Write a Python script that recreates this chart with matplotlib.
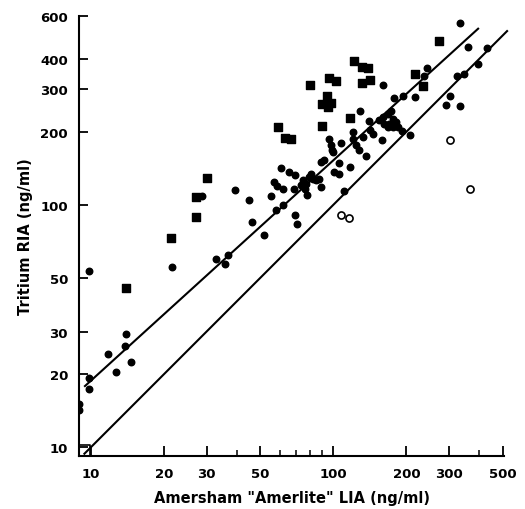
import numpy as np
import matplotlib.pyplot as plt
from matplotlib.ticker import FixedLocator, NullFormatter

# Tritium RIA vs Amersham "Amerlite" LIA (ng/ml)

# filled circles
circle_x = [9.84, 21.6, 13.9, 13.8, 11.8, 14.7, 12.7, 9.78, 9.84, 8.95, 8.95,
            32.9, 35.6, 36.7, 39.4, 44.7, 28.8, 46.1, 51.5, 55.4, 56.8, 58.4,
            61.9, 60.7, 65.6, 61.9, 58.1, 69.1, 70.8, 69.1, 68.8, 78.0, 88.8,
            74.8, 77.2, 79.6, 80.9, 82.2, 84.9, 87.6, 76.0, 73.6, 89.0, 91.8,
            99.3, 105.8, 116.9, 100.9, 105.1, 110.4, 95.6, 97.8, 98.8, 107.6,
            120.3, 120.9, 124.4, 128.5, 132.9, 127.1, 136.4, 139.6, 141.6, 146.1,
            158.6, 159.6, 159.6, 167.3, 172.8, 175.4, 170.1, 181.1, 183.9, 162.2,
            154.6, 167.3, 175.4, 191.4, 207.5, 178.2, 193.2, 215.9, 236.9, 243.0,
            290.9, 302.5, 331.6, 321.7, 343.8, 332.2, 360.1, 428.3, 395.2]
circle_y = [53.2, 55.3, 29.2, 26.2, 24.2, 22.4, 20.4, 19.3, 17.4, 15.1, 14.2,
            59.8, 56.7, 62.3, 115.1, 104.9, 108.9, 85.2, 75.2, 108.2, 123.9, 119.2,
            116.4, 141.5, 136.2, 99.3, 94.7, 90.7, 83.0, 132.2, 115.7, 110.0, 118.7,
            126.0, 122.1, 130.2, 134.3, 128.1, 126.0, 128.1, 116.4, 120.2, 150.1, 153.5,
            165.1, 148.4, 143.2, 136.5, 134.3, 113.5, 187.4, 175.8, 167.6, 179.9,
            200.3, 187.4, 175.8, 244.5, 190.5, 168.0, 158.3, 221.3, 202.8, 196.6,
            184.7, 312.3, 230.3, 237.7, 242.9, 226.6, 216.1, 219.6, 209.4, 216.1,
            223.0, 209.4, 209.4, 201.2, 194.7, 276.0, 280.2, 277.6, 338.0, 364.8,
            257.2, 279.4, 256.5, 340.3, 344.5, 559.8, 448.5, 441.1, 380.1]

# filled squares
square_x = [21.3, 14.0, 30.2, 27.2, 27.0, 59.0, 63.2, 67.0, 80.2, 95.7, 102.6,
            93.8, 89.8, 97.8, 94.7, 89.3, 117.3, 122.0, 131.0, 139.3, 130.8,
            142.0, 217.0, 233.0, 272.0]
square_y = [72.8, 45.3, 129.3, 107.4, 89.0, 210.0, 188.7, 186.0, 311.0, 332.0, 324.0,
            280.0, 261.0, 263.0, 253.0, 211.0, 227.0, 392.0, 371.0, 367.0, 318.0,
            328.0, 345.0, 309.0, 475.0]

# open circles
open_x = [107.9, 115.8, 303.0, 364.5]
open_y = [91.1, 88.4, 184.0, 116.0]

# open square
open_sq_x = [9.4]
open_sq_y = [9.67]

# fitted line  y = fit_a * x ** fit_b  and line of identity
fit_a = 2.32
fit_b = 0.909
fit_range = [9.45, 395]
identity_range = [9.4, 520]

x_ticks = [10, 20, 30, 50, 100, 200, 300, 500]
x_minor = [40, 60, 70, 80, 90, 400]
y_ticks = [10, 20, 30, 50, 100, 200, 300, 400, 600]

plt.rcParams['font.family'] = 'DejaVu Sans'
plt.rcParams['font.weight'] = 'bold'

fig = plt.figure(figsize=(5.25, 5.1), dpi=100)
ax = fig.add_axes([79 / 525, 53 / 510, 425 / 525, 440 / 510])
ax.set_xscale('log')
ax.set_yscale('log')
ax.set_xlim(8.93, 505)
ax.set_ylim(9.2, 600)

fx = np.geomspace(fit_range[0], fit_range[1], 50)
ax.plot(fx, fit_a * fx ** fit_b, color='black', lw=1.5, clip_on=False)
ix = np.geomspace(identity_range[0], identity_range[1], 50)
ax.plot(ix, ix, color='black', lw=1.5, clip_on=False)

ax.scatter(circle_x, circle_y, s=22, color='black', marker='o', zorder=3)
ax.scatter(square_x, square_y, s=34, color='black', marker='s', zorder=3)
ax.scatter(open_x, open_y, s=26, facecolors='white', edgecolors='black',
           linewidths=1.2, marker='o', zorder=3)
ax.scatter(open_sq_x, open_sq_y, s=70, facecolors='none', edgecolors='black',
           linewidths=1.2, marker='s', zorder=3)

for side in ['top', 'right']:
    ax.spines[side].set_visible(False)
for side in ['left', 'bottom']:
    ax.spines[side].set_linewidth(1.5)

ax.xaxis.set_major_locator(FixedLocator(x_ticks))
ax.xaxis.set_minor_locator(FixedLocator(x_minor))
ax.set_xticklabels([str(t) for t in x_ticks])
ax.xaxis.set_minor_formatter(NullFormatter())
ax.yaxis.set_major_locator(FixedLocator(y_ticks))
ax.yaxis.set_minor_locator(FixedLocator([]))
ax.set_yticklabels([str(t) for t in y_ticks])

ax.tick_params(axis='x', which='major', direction='in', length=7, width=1.3,
               pad=8, labelsize=9.5)
ax.tick_params(axis='x', which='minor', direction='in', length=4, width=1.1)
ax.tick_params(axis='y', which='major', direction='in', length=6.5, width=1.3,
               pad=8, labelsize=9.5)

ax.set_xlabel('Amersham "Amerlite" LIA (ng/ml)', fontsize=10.5,
              fontweight='bold', labelpad=7)
ax.set_ylabel('Tritium RIA (ng/ml)', fontsize=10.5, fontweight='bold',
              labelpad=5)

fig.savefig('out.png', dpi=100)
